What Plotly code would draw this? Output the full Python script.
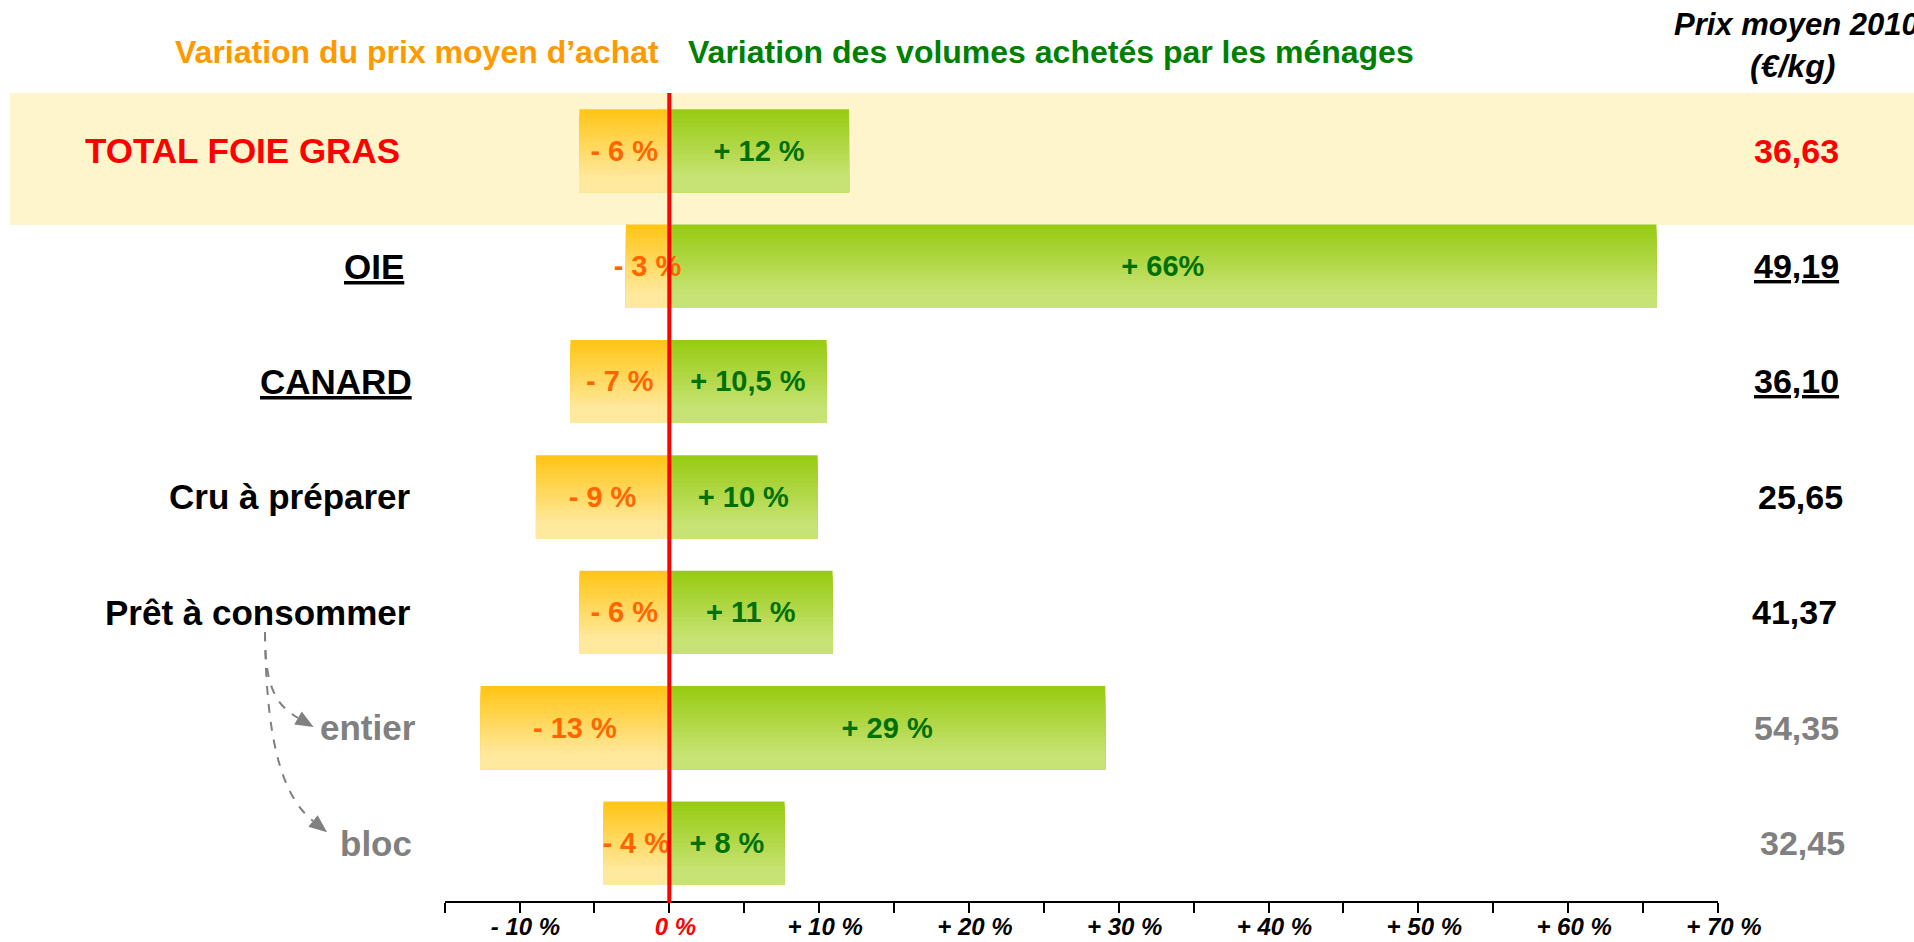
import plotly.graph_objects as go

# ---------------- data ----------------
categories = ["TOTAL FOIE GRAS", "OIE", "CANARD", "Cru à préparer",
              "Prêt à consommer", "entier", "bloc"]
price_var = [-6.0, -2.9, -6.6, -8.9, -6.0, -12.6, -4.4]      # bar lengths (%)
volume_var = [12.0, 65.9, 10.5, 9.9, 10.9, 29.1, 7.7]        # bar lengths (%)
price_labels = ["- 6 %", "- 3 %", "- 7 %", "- 9 %", "- 6 %", "- 13 %", "- 4 %"]
volume_labels = ["+ 12 %", "+ 66%", "+ 10,5 %", "+ 10 %", "+ 11 %", "+ 29 %", "+ 8 %"]
prix_2010 = ["36,63", "49,19", "36,10", "25,65", "41,37", "54,35", "32,45"]
row_colors = ["#FF0000", "#000000", "#000000", "#000000", "#000000", "#808080", "#808080"]
row_underline = [False, True, True, False, False, False, False]
tick_vals = [-15, -10, -5, 0, 5, 10, 15, 20, 25, 30, 35, 40, 45, 50, 55, 60, 65, 70]
tick_labels = ["", "- 10 %", "", "0 %", "", "+ 10 %", "", "+ 20 %", "", "+ 30 %", "",
               "+ 40 %", "", "+ 50 %", "", "+ 60 %", "", "+ 70 %"]

# ---------------- layout helpers ----------------
W, H = 1914, 942
FONT = "Liberation Sans, Arial, sans-serif"
LABEL_RIGHT_PX = [402, 406, 414, 413, 413, 418, 414]      # right edge of row names
PRICE_CENTER_PX = [1796, 1796, 1796, 1800, 1794, 1796, 1802]


def px(x):
    return x / W


def py(y):
    return 1 - y / H


HALF = 0.36          # half bar thickness in category units
NSTRIP = 18          # gradient strips


def lerp(c1, c2, t):
    return "rgb(%d,%d,%d)" % tuple(round(a + (b - a) * t) for a, b in zip(c1, c2))


ORANGE_TOP, ORANGE_BOT = (255, 198, 24), (255, 233, 158)
GREEN_TOP, GREEN_BOT = (152, 203, 20), (199, 227, 117)

fig = go.Figure()

for values, ctop, cbot in [(price_var, ORANGE_TOP, ORANGE_BOT),
                           (volume_var, GREEN_TOP, GREEN_BOT)]:
    h = 2 * HALF / NSTRIP
    for k in range(NSTRIP):
        t = min(1.0, (k / (NSTRIP - 1)) / 0.85)
        fig.add_trace(go.Bar(
            x=values, y=categories, orientation="h",
            offset=-HALF + k * h, width=2 * HALF - k * h,
            marker=dict(color=lerp(ctop, cbot, t), line=dict(width=0)),
            hoverinfo="skip", showlegend=False,
        ))

# text carriers (transparent bars)
for values, labels, col in [(price_var, price_labels, "#FF6600"),
                            (volume_var, volume_labels, "#007000")]:
    fig.add_trace(go.Bar(
        x=values, y=categories, orientation="h", width=2 * HALF,
        marker=dict(color="rgba(0,0,0,0)", line=dict(width=0)),
        text=labels, textposition="inside", insidetextanchor="middle",
        textangle=0, constraintext="none",
        insidetextfont=dict(family=FONT, size=29, color=col, weight="bold"),
        hoverinfo="skip", showlegend=False,
    ))

annotations = []
# row labels (left) and average prices (right)
for i, (cat, col, ul, price) in enumerate(zip(categories, row_colors, row_underline, prix_2010)):
    txt = f"<u>{cat}</u>" if ul else cat
    annotations.append(dict(
        x=px(LABEL_RIGHT_PX[i]), xref="paper", xanchor="right", y=cat, yref="y",
        yanchor="middle", text=txt, showarrow=False,
        font=dict(family=FONT, size=35, color=col, weight="bold")))
    ptxt = f"<u>{price}</u>" if ul else price
    annotations.append(dict(
        x=px(PRICE_CENTER_PX[i]), xref="paper", xanchor="center", y=cat, yref="y",
        yanchor="middle", text=ptxt, showarrow=False,
        font=dict(family=FONT, size=34, color=col, weight="bold")))

# headers
annotations += [
    dict(x=px(661), y=py(52), xref="paper", yref="paper", xanchor="right", yanchor="middle",
         text="Variation du prix moyen d’achat", showarrow=False,
         font=dict(family=FONT, size=32, color="#FF9900", weight="bold")),
    dict(x=px(686), y=py(52), xref="paper", yref="paper", xanchor="left", yanchor="middle",
         text="Variation des volumes achetés par les ménages", showarrow=False,
         font=dict(family=FONT, size=32, color="#008000", weight="bold")),
    dict(x=px(1796), y=py(25), xref="paper", yref="paper", xanchor="center", yanchor="middle",
         text="Prix moyen 2010", showarrow=False,
         font=dict(family=FONT, size=31, color="#000000", weight="bold", style="italic")),
    dict(x=px(1792), y=py(66), xref="paper", yref="paper", xanchor="center", yanchor="middle",
         text="(€/kg)", showarrow=False,
         font=dict(family=FONT, size=32, color="#000000", weight="bold", style="italic")),
]

shapes = [
    # highlighted TOTAL row band
    dict(type="rect", xref="paper", yref="y", x0=px(10), x1=1.0, y0=-0.5, y1=0.644,
         fillcolor="#FFF5CC", line=dict(width=0), layer="below"),
    # red zero line
    dict(type="line", xref="x", yref="y domain", x0=0, x1=0, y0=-0.003, y1=1,
         line=dict(color="#FF0000", width=4), layer="above"),
]


def bez(p0, p1, p2, p3):
    f = lambda p: f"{px(p[0]):.5f},{py(p[1]):.5f}"
    return f"M {f(p0)} C {f(p1)} {f(p2)} {f(p3)}"


def head(end, ctrl, length=18, width=15):
    dx, dy = end[0] - ctrl[0], end[1] - ctrl[1]
    n = (dx * dx + dy * dy) ** 0.5
    ux, uy = dx / n, dy / n
    tip = (end[0] + ux * length, end[1] + uy * length)
    b1 = (end[0] - uy * width / 2, end[1] + ux * width / 2)
    b2 = (end[0] + uy * width / 2, end[1] - ux * width / 2)
    f = lambda p: f"{px(p[0]):.5f},{py(p[1]):.5f}"
    return f"M {f(tip)} L {f(b1)} L {f(b2)} Z"


curves = [
    ((265, 632), (265, 684), (274, 704), (298, 718)),
    ((265, 632), (266, 728), (278, 793), (313, 821)),
]
for p0, p1, p2, p3 in curves:
    shapes.append(dict(type="path", xref="paper", yref="paper", path=bez(p0, p1, p2, p3),
                       line=dict(color="#808080", width=2, dash="dash")))
    shapes.append(dict(type="path", xref="paper", yref="paper", path=head(p3, p2),
                       fillcolor="#808080", line=dict(width=0)))

fig.update_layout(
    width=W, height=H, autosize=False,
    margin=dict(l=0, r=0, t=0, b=0, pad=0, autoexpand=False),
    paper_bgcolor="white", plot_bgcolor="rgba(0,0,0,0)",
    barmode="overlay", showlegend=False,
    xaxis=dict(domain=[px(444.6), px(1717.9)], range=[-15, 70],
               tickvals=tick_vals,
               ticktext=[t if t != "0 %" else "<span style='color:#FF0000'>0 %</span>"
                         for t in tick_labels],
               showgrid=False, zeroline=False, showline=True, linecolor="black",
               linewidth=2, ticks="outside", ticklen=10, tickwidth=1.5, tickcolor="black",
               ticklabelstandoff=-7, ticklabelshift=6,
               tickfont=dict(family=FONT, size=24, color="black", weight="bold", style="italic"),
               automargin=False, fixedrange=True),
    yaxis=dict(domain=[py(900.7), py(93)], type="category", categoryarray=categories,
               range=[6.5, -0.5], showticklabels=False, showgrid=False, zeroline=False,
               showline=False, ticks="", automargin=False, fixedrange=True),
    annotations=annotations, shapes=shapes,
)

fig.write_html("out.html", config={"displayModeBar": False, "responsive": False},
               post_script="document.body.style.margin='0';document.body.style.overflow='hidden';")
